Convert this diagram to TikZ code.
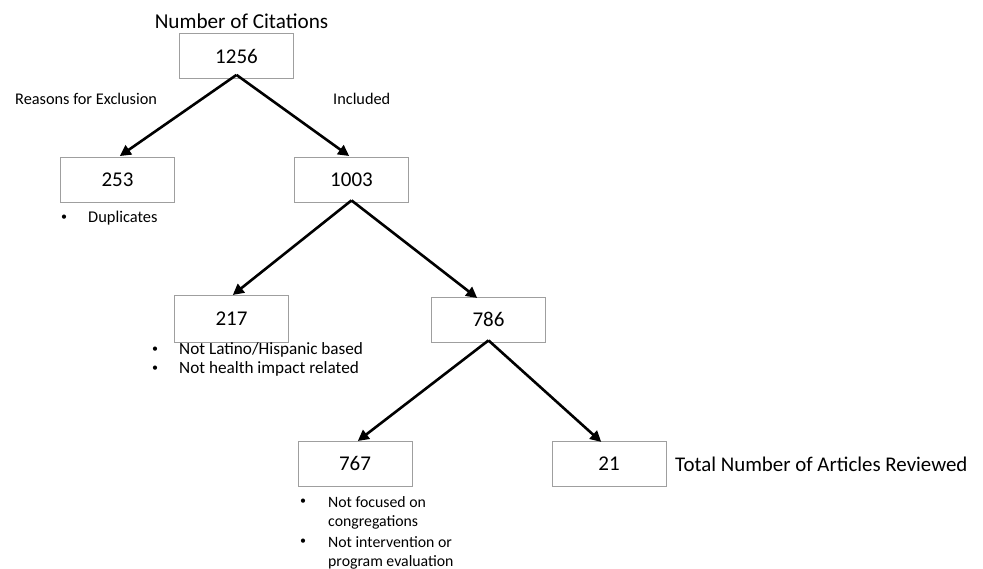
\documentclass[tikz,border=0pt]{standalone}
\usepackage{fontspec}
\setmainfont{Carlito}
\usetikzlibrary{arrows.meta}
\begin{document}
\begin{tikzpicture}[x=1pt,y=-1pt,
  numbox/.style={draw=gray!75, line width=0.8pt, minimum width=114pt, minimum height=45pt, inner sep=0pt, font=\fontsize{21}{25}\selectfont},
  arr/.style={line width=2.6pt, -{Triangle[length=11pt,width=11pt]}, shorten >=1pt},
  lbl/.style={inner sep=0pt, font=\fontsize{16.3}{19}\selectfont},
  bul/.style={inner sep=0pt, anchor=center, font=\fontsize{12}{14}\selectfont},
  btxt/.style={inner sep=0pt, anchor=west, font=\fontsize{16.4}{19}\selectfont},
  btxtb/.style={inner sep=0pt, anchor=west, font=\fontsize{17.2}{20}\selectfont},
  btxtc/.style={inner sep=0pt, anchor=west, font=\fontsize{15.8}{19}\selectfont}
]
\useasboundingbox (0,0) rectangle (983,569);

% boxes
\node[numbox] (n1256) at (236.5,56) {1256};
\node[numbox] (n253) at (117.5,179.5) {253};
\node[numbox] (n1003) at (351.5,179.5) {1003};
\node[numbox, minimum height=47pt] (n217) at (231.5,318.5) {217};
\node[numbox] (n786) at (488.5,319.5) {786};
\node[numbox] (n767) at (355,463.5) {767};
\node[numbox] (n21) at (609,463.5) {21};

% titles / labels
\node[inner sep=0pt, font=\fontsize{21.2}{25}\selectfont] (title) at (241.5,21) {Number of Citations};
\node[lbl, anchor=west] (excl) at (15,99) {Reasons for Exclusion};
\node[lbl, anchor=west] (incl) at (333,99) {Included};
\node[inner sep=0pt, anchor=west, font=\fontsize{20.9}{25}\selectfont] (total) at (675,464) {Total Number of Articles Reviewed};

% bullets
\node[bul] (b1) at (64,218) {•};
\node[btxt] (t1) at (88,218) {Duplicates};
\node[bul] (b2) at (155,350) {•};
\node[btxtb] (t2) at (179,350) {Not Latino/Hispanic based};
\node[bul] (b3) at (155,369) {•};
\node[btxtb] (t3) at (179,369) {Not health impact related};
\node[bul] (b4) at (303,502) {•};
\node[btxtc] (t4) at (328,502) {Not focused on};
\node[btxtc] (t5) at (328,522) {congregations};
\node[bul] (b6) at (303,542) {•};
\node[btxtc] (t6) at (328,542) {Not intervention or};
\node[btxtc] (t7) at (328,562) {program evaluation};

% connectors
\coordinate (s1) at ([yshift=4pt]n1256.south);
\coordinate (s2) at ([yshift=2pt]n1003.south);
\coordinate (s3) at ([yshift=2pt]n786.south);
\draw[arr] (s1) -- ([xshift=1.5pt]n253.north);
\draw[arr] (s1) -- ([xshift=-1.5pt]n1003.north);
\draw[arr] (s2) -- ([xshift=0.5pt,yshift=-1pt]n217.north);
\draw[arr] (s2) -- ([xshift=-10.5pt,yshift=-2pt]n786.north);
\draw[arr] (s3) -- ([xshift=2pt,yshift=-1pt]n767.north);
\draw[arr] (s3) -- ([xshift=-7pt,yshift=-2pt]n21.north);
\end{tikzpicture}
\end{document}
